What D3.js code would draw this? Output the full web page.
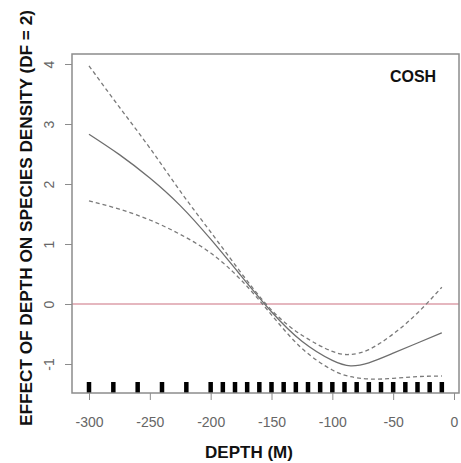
<!DOCTYPE html>
<html>
<head>
<meta charset="utf-8">
<script src="https://cdn.jsdelivr.net/npm/d3@7"></script>
<style>
  body { margin: 0; background: #fff; }
  text { font-family: "Liberation Sans", Arial, sans-serif; }
</style>
</head>
<body>
<div id="chart"></div>
<script>
let depths = [-300, -275, -250, -225, -200, -175, -150, -125, -100, -85, -70, -50, -30, -10];
let fit   = [2.83, 2.49, 2.10, 1.64, 1.08, 0.47, -0.13, -0.62, -0.94, -1.03, -0.98, -0.82, -0.65, -0.48];
let upper = [3.97, 3.28, 2.60, 1.88, 1.20, 0.52, -0.10, -0.52, -0.79, -0.84, -0.76, -0.50, -0.15, 0.28];
let lower = [1.72, 1.58, 1.40, 1.16, 0.85, 0.40, -0.18, -0.74, -1.10, -1.21, -1.25, -1.24, -1.21, -1.20];
// rug of observed depths
let rugDepths = [-300, -280, -260, -240, -220, -200, -190, -180, -170, -160, -150, -140, -130, -120,
                 -110, -100, -90, -80, -70, -60, -50, -40, -30, -20, -10];
let xTicks = [-300, -250, -200, -150, -100, -50, 0];
let yTicks = [-1, 0, 1, 2, 3, 4];

let w = 461, h = 463;
let svg = d3.select("#chart").append("svg")
  .attr("width", w)
  .attr("height", h);

// plot box
let boxL = 72, boxR = 459, boxT = 54, boxB = 393;

let x = d3.scaleLinear().domain([-300, 0]).range([89, 454]);
let y = d3.scaleLinear().domain([-1, 4]).range([364, 64]);

//zero line
svg.append("line")
  .attr("x1", boxL).attr("x2", boxR)
  .attr("y1", y(0)).attr("y2", y(0))
  .attr("stroke", "#cc7080")
  .attr("stroke-width", 1.1);

// rug
svg.selectAll(".rug")
  .data(rugDepths)
  .enter()
  .append("line")
  .attr("class", "rug")
  .attr("x1", d => x(d)).attr("x2", d => x(d))
  .attr("y1", 382).attr("y2", boxB)
  .attr("stroke", "#000")
  .attr("stroke-width", 4.5);

// curves
let line = d3.line()
  .x((d, i) => x(depths[i]))
  .y(d => y(d))
  .curve(d3.curveNatural);

svg.append("path")
  .attr("d", line(fit))
  .attr("fill", "none")
  .attr("stroke", "#6e6e6e")
  .attr("stroke-width", 1.3);

[upper, lower].forEach(s => {
  svg.append("path")
    .attr("d", line(s))
    .attr("fill", "none")
    .attr("stroke", "#7a7a7a")
    .attr("stroke-width", 1.3)
    .attr("stroke-dasharray", "4,3");
});

// frame
svg.append("rect")
  .attr("x", boxL).attr("y", boxT)
  .attr("width", boxR - boxL).attr("height", boxB - boxT)
  .attr("fill", "none")
  .attr("stroke", "#8c8c8c")
  .attr("stroke-width", 1.5);

// x axis
let xAxis = svg.append("g")
  .attr("transform", "translate(0," + boxB + ")")
  .call(d3.axisBottom(x).tickValues(xTicks).tickSize(7).tickPadding(17).tickFormat(d => String(d)));
xAxis.select(".domain").remove();
xAxis.selectAll("line").attr("stroke", "#8c8c8c");
xAxis.selectAll("text")
  .attr("fill", "#666")
  .attr("font-size", 14)
  .attr("font-family", "Liberation Sans, Arial, sans-serif");

// y axis, labels turned like R
let yAxis = svg.append("g")
  .attr("transform", "translate(" + boxL + ",0)")
  .call(d3.axisLeft(y).tickValues(yTicks).tickSize(7));
yAxis.select(".domain").remove();
yAxis.selectAll("line").attr("stroke", "#8c8c8c");
yAxis.selectAll("text").remove();
yAxis.selectAll(".tick")
  .append("text")
  .text(d => String(d))
  .attr("transform", "translate(-18,0) rotate(-90)")
  .attr("text-anchor", "middle")
  .attr("fill", "#666")
  .attr("font-size", 14)
  .attr("font-family", "Liberation Sans, Arial, sans-serif");

// titles
svg.append("text")
  .text("DEPTH (M)")
  .attr("x", 249)
  .attr("y", 458)
  .attr("text-anchor", "middle")
  .attr("font-weight", "bold")
  .attr("font-size", 17)
  .attr("fill", "#111");

svg.append("text")
  .text("EFFECT OF DEPTH ON SPECIES DENSITY (DF = 2)")
  .attr("transform", "translate(32,218) rotate(-90)")
  .attr("text-anchor", "middle")
  .attr("font-weight", "bold")
  .attr("font-size", 17)
  .attr("textLength", 416)
  .attr("lengthAdjust", "spacingAndGlyphs")
  .attr("fill", "#111");

svg.append("text")
  .text("COSH")
  .attr("x", 413)
  .attr("y", 82)
  .attr("text-anchor", "middle")
  .attr("font-weight", "bold")
  .attr("font-size", 16)
  .attr("fill", "#111");
</script>
</body>
</html>
